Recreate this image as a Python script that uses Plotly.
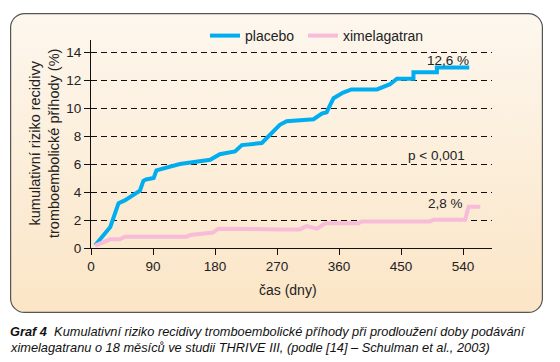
import base64
import plotly.graph_objects as go

# ---- data ----
placebo_days = [6, 28, 40, 49, 71, 76, 80, 91, 95, 129, 173, 187, 209, 219, 248, 274, 284,
                323, 335, 342, 352, 366, 378, 415, 434, 444, 468, 468, 502, 502, 549]
placebo_vals = [0.2, 1.5, 3.2, 3.4, 4.1, 4.8, 4.9, 5.0, 5.55, 6.0, 6.3, 6.7, 6.9, 7.35, 7.5, 8.8, 9.05,
                9.2, 9.6, 9.7, 10.7, 11.1, 11.33, 11.33, 11.7, 12.1, 12.1, 12.55, 12.55, 12.9, 12.9]
xim_days = [6, 28, 42, 49, 139, 144, 177, 185, 274, 303, 313, 328, 340, 388, 393, 492, 497, 543, 548, 565]
xim_vals = [0.17, 0.62, 0.62, 0.81, 0.81, 0.93, 1.1, 1.38, 1.33, 1.33, 1.57, 1.38, 1.76, 1.76, 1.9,
            1.9, 2.02, 2.02, 2.95, 2.95]
x_ticks = [0, 90, 180, 270, 360, 450, 540]
y_ticks = [0, 2, 4, 6, 8, 10, 12, 14]
series_names = ["placebo", "ximelagatran"]

FONT = "Liberation Sans, Arial, Helvetica, sans-serif"
OFF = 8  # page body margin
W, H = 560 - OFF, 362 - OFF
# plot area in screen pixels
SX0, SX1, SY0, SY1 = 91, 492, 40, 248
ML, MR, MT, MB = SX0 - OFF, W - (SX1 - OFF), SY0 - OFF, H - (SY1 - OFF)
PW, PH = SX1 - SX0, SY1 - SY0


def px(xs):
    return (xs - SX0) / PW


def py(ys):
    return (SY1 - ys) / PH


fig = go.Figure()
fig.add_trace(go.Scatter(x=placebo_days, y=placebo_vals, mode="lines", name=series_names[0],
                         line=dict(color="#00aeef", width=4), legend="legend"))
fig.add_trace(go.Scatter(x=xim_days, y=xim_vals, mode="lines", name=series_names[1],
                         line=dict(color="#f8bcd9", width=4), legend="legend2"))

# background panel (rounded rect with vertical gradient)
bx0, by0, bx1, by1 = 10, 13, 543, 313
bw, bh = bx1 - bx0, by1 - by0
svg = f'''<svg xmlns="http://www.w3.org/2000/svg" width="{bw}" height="{bh}" viewBox="0 0 {bw} {bh}" preserveAspectRatio="none">
<defs><linearGradient id="g" x1="0" y1="0" x2="0" y2="1">
<stop offset="0" stop-color="#fdf7ee"/><stop offset="1" stop-color="#fbe5c6"/></linearGradient></defs>
<rect x="0.6" y="0.6" width="{bw-1.2}" height="{bh-1.2}" rx="14" ry="14" fill="url(#g)" stroke="#555555" stroke-width="1.2"/>
</svg>'''
src = "data:image/svg+xml;base64," + base64.b64encode(svg.encode()).decode()
fig.add_layout_image(dict(source=src, xref="paper", yref="paper", x=px(bx0), y=py(by0),
                          sizex=bw / PW, sizey=bh / PH, xanchor="left", yanchor="top",
                          sizing="stretch", layer="below"))

ann = []
ann.append(dict(text="12,6 %", x=518, y=13.4, xref="x", yref="y", showarrow=False,
                font=dict(size=13.5, color="#222", family=FONT)))
ann.append(dict(text="p < 0,001", x=502, y=6.6, xref="x", yref="y", showarrow=False,
                font=dict(size=13.5, color="#222", family=FONT)))
ann.append(dict(text="2,8 %", x=515, y=3.15, xref="x", yref="y", showarrow=False,
                font=dict(size=13.5, color="#222", family=FONT)))
ann.append(dict(text="kumulativní riziko recidivy<br>tromboembolické příhody (%)", x=px(44), y=py(144),
                xref="paper", yref="paper", showarrow=False, textangle=-90,
                xanchor="center", yanchor="middle",
                font=dict(size=14.5, color="#222", family=FONT)))
ann.append(dict(text="čas (dny)", x=px(288), y=py(290), xref="paper", yref="paper", showarrow=False,
                xanchor="center", yanchor="middle", font=dict(size=14, color="#222", family=FONT)))
ann.append(dict(text="<b><i>Graf 4</i></b><i>  Kumulativní riziko recidivy tromboembolické příhody při prodloužení doby podávání</i>",
                x=px(8), y=py(331), xref="paper", yref="paper", showarrow=False,
                xanchor="left", yanchor="middle", font=dict(size=12.8, color="#111", family=FONT)))
ann.append(dict(text="<i>ximelagatranu o 18 měsíců ve studii THRIVE III, (podle [14] – Schulman et al., 2003)</i>",
                x=px(8), y=py(347), xref="paper", yref="paper", showarrow=False,
                xanchor="left", yanchor="middle", font=dict(size=12.8, color="#111", family=FONT)))

legend_common = dict(orientation="h", yanchor="middle", xanchor="left", bgcolor="rgba(0,0,0,0)",
                     font=dict(size=14, color="#222", family=FONT))
fig.update_layout(
    width=W, height=H,
    margin=dict(l=ML, r=MR, t=MT, b=MB, pad=0, autoexpand=False),
    paper_bgcolor="white", plot_bgcolor="rgba(0,0,0,0)",
    font=dict(family=FONT, size=13, color="#222"),
    showlegend=True,
    legend=dict(x=px(205), y=py(36), **legend_common),
    legend2=dict(x=px(303), y=py(36), **legend_common),
    annotations=ann,
)
fig.update_xaxes(range=[0, 582], tickvals=x_ticks, ticktext=[str(v) for v in x_ticks],
                 showgrid=False, zeroline=False, showline=True, linecolor="#111", linewidth=1.2,
                 ticks="outside", ticklen=6, tickcolor="#111", tickwidth=1.2,
                 tickfont=dict(size=13.5, color="#222"))
fig.update_yaxes(range=[0, 14.86], tickvals=y_ticks, ticktext=[str(v) for v in y_ticks],
                 showgrid=True, gridcolor="#111", gridwidth=1, griddash="6px,4px",
                 zeroline=False, showline=True, linecolor="#111", linewidth=1.2,
                 ticks="outside", ticklen=6, tickcolor="#111", tickwidth=1.2,
                 tickfont=dict(size=13.5, color="#222"))

fig.write_html("out.html")
